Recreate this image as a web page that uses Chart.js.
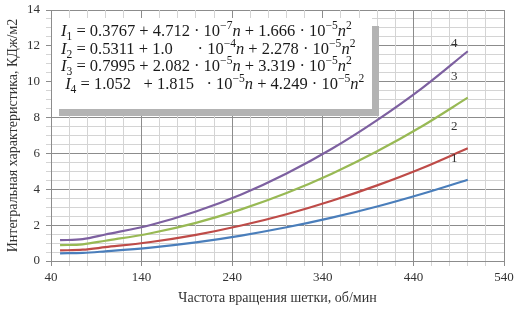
<!DOCTYPE html>
<html>
<head>
<meta charset="utf-8">
<script src="https://cdn.jsdelivr.net/npm/chart.js@4.4.1/dist/chart.umd.min.js"></script>
<style>
  body { margin: 0; background: #fff; }
  canvas { display: block; }
</style>
</head>
<body>
<canvas id="myChart" width="525" height="312"></canvas>
<script>
const nValues = [50, 75, 100, 150, 200, 250, 300, 350, 400, 450, 500];
const series1 = [0.43, 0.45, 0.54, 0.75, 1.04, 1.42, 1.88, 2.42, 3.04, 3.75, 4.53];
const series2 = [0.59, 0.63, 0.77, 1.06, 1.46, 1.98, 2.61, 3.36, 4.22, 5.19, 6.29];
const series3 = [0.88, 0.93, 1.13, 1.55, 2.13, 2.88, 3.79, 4.87, 6.12, 7.53, 9.11];
const series4 = [1.16, 1.22, 1.48, 2.01, 2.76, 3.71, 4.88, 6.26, 7.86, 9.66, 11.70];
const seriesNames = ['1', '2', '3', '4'];
const seriesColors = ['#4a7ebb', '#be4b48', '#98b954', '#7d60a0'];
// curve number labels: [n, value]
const labelPos = [[485, 5.74], [485, 7.47], [485, 10.26], [485, 12.1]];

const xTitle = 'Частота вращения шетки, об/мин';
const yTitle = 'Интегральная характеристика, КДж/м2';

const serif = '"Liberation Serif", "DejaVu Serif", serif';

function toPoints(vals) {
  return vals.map((v, i) => ({ x: nValues[i], y: v }));
}

let myDataset = [series1, series2, series3, series4].map((s, i) => ({
  label: seriesNames[i],
  data: toPoints(s),
  borderColor: seriesColors[i],
  borderWidth: 2.2,
  pointRadius: 0,
  cubicInterpolationMode: 'monotone',
  fill: false
}));

const equations = [
  [['I','i'],['1','sub'],[' = 0.3767 + 4.712 · 10','n'],['−7','sup'],['n','i'],[' + 1.666 · 10','n'],['−5','sup'],['n','i'],['2','sup']],
  [['I','i'],['2','sub'],[' = 0.5311 + 1.0      · 10','n'],['−4','sup'],['n','i'],[' + 2.278 · 10','n'],['−5','sup'],['n','i'],['2','sup']],
  [['I','i'],['3','sub'],[' = 0.7995 + 2.082 · 10','n'],['−5','sup'],['n','i'],[' + 3.319 · 10','n'],['−5','sup'],['n','i'],['2','sup']],
  [[' I','i'],['4','sub'],[' = 1.052   + 1.815   · 10','n'],['−5','sup'],['n','i'],[' + 4.249 · 10','n'],['−5','sup'],['n','i'],['2','sup']]
];

function drawRuns(ctx, x, y, runs, size) {
  runs.forEach(r => {
    let txt = r[0], kind = r[1], yy = y;
    if (kind === 'i') ctx.font = 'italic ' + size + 'px ' + serif;
    else if (kind === 'sub') { ctx.font = (size * 0.7) + 'px ' + serif; yy = y + size * 0.3; }
    else if (kind === 'sup') { ctx.font = (size * 0.7) + 'px ' + serif; yy = y - size * 0.38; }
    else ctx.font = size + 'px ' + serif;
    ctx.fillText(txt, x, yy);
    x += ctx.measureText(txt).width;
  });
}

const extrasPlugin = {
  id: 'extras',
  beforeDatasetsDraw(chart) {
    const ctx = chart.ctx;
    ctx.save();
    // equation box with shadow
    ctx.fillStyle = '#b3b3b3';
    ctx.fillRect(59, 26, 320, 90);
    ctx.fillStyle = '#ffffff';
    ctx.fillRect(52, 18, 320, 91);
    ctx.fillStyle = '#1a1a1a';
    ctx.textBaseline = 'middle';
    const lineY = [32, 50, 67, 85];
    equations.forEach((eq, i) => drawRuns(ctx, 61, lineY[i], eq, 16.5));
    ctx.restore();
  },
  afterDatasetsDraw(chart) {
    const ctx = chart.ctx;
    const xs = chart.scales.x, ys = chart.scales.y;
    ctx.save();
    ctx.font = '13px ' + serif;
    ctx.fillStyle = '#333';
    ctx.textAlign = 'center';
    ctx.textBaseline = 'middle';
    labelPos.forEach((p, i) => {
      ctx.fillText(seriesNames[i], xs.getPixelForValue(p[0]), ys.getPixelForValue(p[1]));
    });
    ctx.restore();
  }
};

let myOptions = {
  responsive: false,
  animation: false,
  layout: { padding: { top: 10, right: 21, left: 0, bottom: 0 } },
  plugins: { legend: { display: false }, tooltip: { enabled: false } },
  scales: {
    x: {
      type: 'linear',
      min: 40,
      max: 540,
      afterFit: s => { s.height = 51; },
      ticks: {
        stepSize: 20,
        autoSkip: false,
        maxRotation: 0,
        padding: 4,
        color: '#333',
        font: { family: serif, size: 13 },
        callback: v => ((v - 40) % 100 === 0 ? v : '')
      },
      grid: {
        z: -1,
        tickLength: 5,
        color: c => ((c.tick.value - 40) % 100 === 0 ? '#8c8c8c' : '#d4d4d4')
      },
      border: { color: '#8c8c8c' },
      title: {
        display: true,
        text: xTitle,
        color: '#333',
        font: { family: serif, size: 14 },
        padding: { top: 0, bottom: 5 }
      }
    },
    y: {
      min: 0,
      max: 14,
      afterFit: s => { s.width = 51; },
      ticks: {
        stepSize: 0.5,
        autoSkip: false,
        padding: 6,
        color: '#333',
        font: { family: serif, size: 13, lineHeight: 0.6 },
        callback: v => (v % 2 === 0 ? v : '')
      },
      grid: {
        z: -2,
        tickLength: 5,
        color: c => (c.tick.value % 2 === 0 ? '#8c8c8c' : '#d4d4d4')
      },
      border: { color: '#8c8c8c' },
      title: {
        display: true,
        text: yTitle,
        color: '#333',
        font: { family: serif, size: 14 },
        padding: { top: 5, bottom: 5 }
      }
    }
  }
};

let myChart = new Chart(document.getElementById('myChart'), {
  type: 'line',
  data: { datasets: myDataset },
  options: myOptions,
  plugins: [extrasPlugin]
});
</script>
</body>
</html>
